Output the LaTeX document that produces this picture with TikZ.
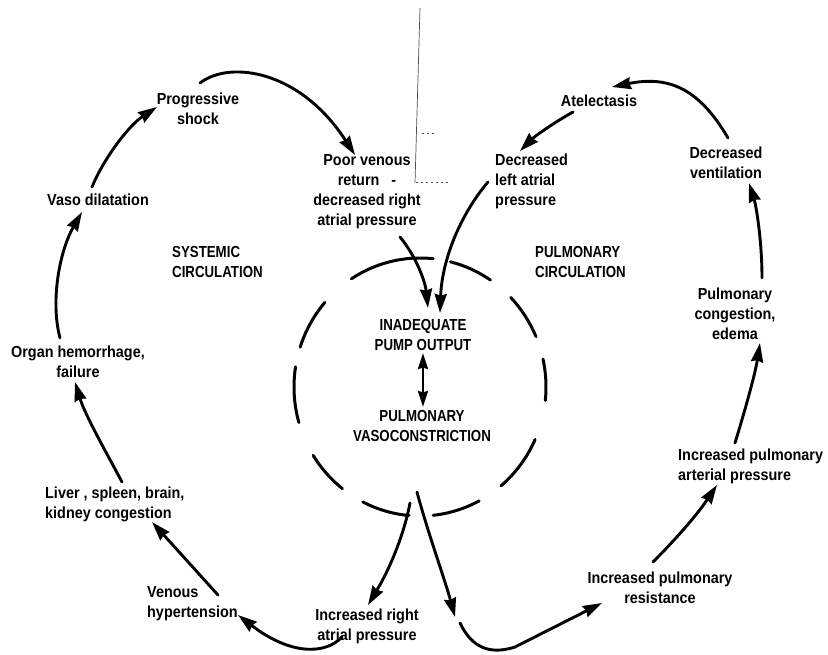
\documentclass[tikz,border=0pt]{standalone}
\usepackage{fontspec}
\setmainfont{Liberation Sans}
\newfontfamily\labf{Liberation Sans Bold}[FakeStretch=0.9]
\newfontfamily\capsf{Liberation Sans Bold}[FakeStretch=0.83]
\usetikzlibrary{arrows.meta}
\begin{document}
\begin{tikzpicture}[x=1pt,y=-1pt,
  lab/.style={font=\labf\fontsize{16}{20}\selectfont, inner sep=0pt, align=center},
  capl/.style={font=\capsf\fontsize{16}{20}\selectfont, inner sep=0pt, align=center},
  arr/.style={line width=2.9pt, line cap=round, -{Stealth[length=19pt,width=12pt,inset=1.5pt]}},
  darr/.style={line width=2.9pt, {Stealth[length=16pt,width=10pt,inset=1.5pt]}-{Stealth[length=16pt,width=10pt,inset=1.5pt]}},
  circ/.style={line width=3pt, line cap=round},
  crease/.style={line width=0.7pt, black!70}]
\useasboundingbox (0,0) rectangle (828,655);

% scan crease line at the top
\draw[crease] (420,8) -- (415,183);
\draw[crease, dash pattern=on 2pt off 3pt] (422,133) -- (434,133);
\draw[crease, dash pattern=on 2pt off 3pt] (416,182) -- (450,182);

% text nodes
\node[lab] (prog) at (198,109) {Progressive\\shock};
\node[lab] (poor) at (367,192) {Poor venous\\return\hspace{12pt}-\\decreased right\\atrial pressure};
\node[capl, align=left, anchor=west] (sys) at (172,262) {SYSTEMIC\\CIRCULATION};
\node[lab] (vaso) at (98,200) {Vaso dilatation};
\node[lab] (atel) at (599,101) {Atelectasis};
\node[lab, align=left, anchor=west] (decl) at (495,181) {Decreased\\left atrial\\pressure};
\node[lab] (decv) at (726,163) {Decreased\\ventilation};
\node[capl, align=left, anchor=west] (pulc) at (535,262) {PULMONARY\\CIRCULATION};
\node[lab] (pcong) at (735,314) {Pulmonary\\congestion,\\edema};
\node[capl] (inad) at (423,335) {INADEQUATE\\PUMP OUTPUT};
\node[capl] (pvc) at (422,426) {PULMONARY\\VASOCONSTRICTION};
\node[lab] (organ) at (78,362) {Organ hemorrhage,\\failure};
\node[lab, align=left, anchor=west] (liver) at (45,504) {Liver , spleen, brain,\\kidney congestion};
\node[lab, align=left, anchor=west] (venous) at (147,604) {Venous\\hypertension};
\node[lab] (incr) at (367,626) {Increased right\\atrial pressure};
\node[lab] (incres) at (660,588) {Increased pulmonary\\resistance};
\node[lab, align=left, anchor=west] (incart) at (678,466) {Increased pulmonary\\arterial pressure};

% dashed boundary circle round the centre
\coordinate (ctr) at (420,387);
\foreach \a/\b in {139/162, 171/196, 212/232, 243/265, 276/298, 310/336, 354/372.5, 23/44, 56/76, 84/123}
  \draw[circ] (ctr) ++(-\a:126 and 129) arc[start angle=-\a, end angle=-\b, x radius=126, y radius=129];

% connector end points
\coordinate (vasoT) at (92,187);   \coordinate (progL) at (157,107);
\coordinate (progT) at (200,83);   \coordinate (poorT) at (355,155);
\coordinate (poorB) at (400,237);  \coordinate (inadA) at (428,308);
\coordinate (declL) at (488,182);  \coordinate (inadB) at (440,313);
\coordinate (atelB) at (573,112);  \coordinate (declT) at (520,151);
\coordinate (decvT) at (728,138);  \coordinate (atelR) at (612,87);
\coordinate (pcongT) at (762,278); \coordinate (decvB) at (749,183);
\coordinate (incartT) at (735,443);\coordinate (pcongB) at (760,343);
\coordinate (incresT) at (653,562);\coordinate (incartB) at (717,485);
\coordinate (circB1) at (417,492); \coordinate (mid1) at (455,617);
\coordinate (mid2) at (460,623);   \coordinate (incresL) at (602,603);
\coordinate (circB2) at (410,503); \coordinate (incrT) at (368,605);
\coordinate (incrB) at (342,637);  \coordinate (venousR) at (238,615);
\coordinate (venousT) at (218,595);\coordinate (liverB) at (152,522);
\coordinate (liverT) at (122,482); \coordinate (organB) at (75,382);
\coordinate (organT) at (60,338);  \coordinate (vasoB) at (82,212);
\coordinate (inadBot) at (423,353);\coordinate (pvcTop) at (423,407);

% connectors
\draw[arr] (vasoT) .. controls (103,160) and (128,126) .. (progL);
\draw[arr] (progT) .. controls (230,60) and (300,70) .. (poorT);
\draw[arr] (poorB) .. controls (415,255) and (425,280) .. (inadA);
\draw[arr] (declL) .. controls (460,215) and (442,260) .. (inadB);
\draw[arr] (atelB) .. controls (555,122) and (535,136) .. (declT);
\draw[arr] (decvT) .. controls (700,90) and (670,75) .. (atelR);
\draw[arr] (pcongT) .. controls (762,240) and (756,205) .. (decvB);
\draw[arr] (incartT) .. controls (745,410) and (755,375) .. (pcongB);
\draw[arr] (incresT) .. controls (675,540) and (697,515) .. (incartB);
\draw[arr] (circB1) .. controls (427,530) and (445,580) .. (mid1);
\draw[arr] (mid2) .. controls (472,648) and (490,655) .. (515,647) -- (incresL);
\draw[arr] (circB2) .. controls (405,530) and (392,565) .. (incrT);
\draw[arr] (incrB) .. controls (325,655) and (290,655) .. (venousR);
\draw[arr] (venousT) -- (liverB);
\draw[arr] (liverT) .. controls (105,450) and (85,415) .. (organB);
\draw[arr] (organT) .. controls (50,300) and (60,250) .. (vasoB);
\draw[darr] (inadBot) -- (pvcTop);
\end{tikzpicture}
\end{document}
